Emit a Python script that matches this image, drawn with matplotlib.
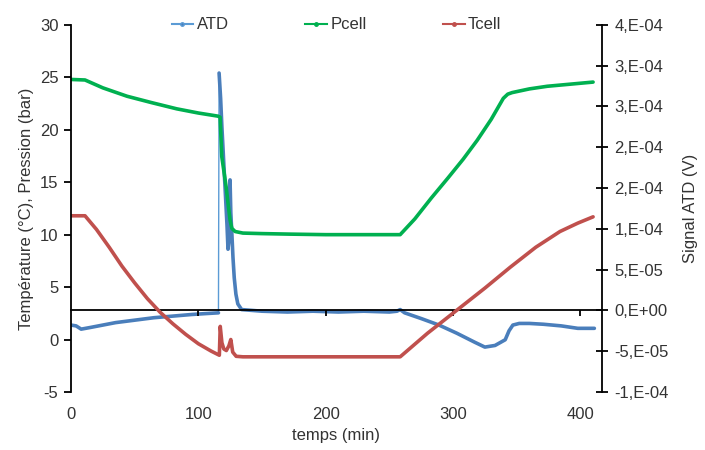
import math

import matplotlib

matplotlib.use("Agg")
from matplotlib import pyplot as plt
from matplotlib.lines import Line2D
from matplotlib.ticker import FuncFormatter, MultipleLocator

plt.rcParams["font.family"] = ["Liberation Sans", "DejaVu Sans"]
plt.rcParams["axes.unicode_minus"] = False

# %% data
# Pcell (bar), left axis
p_t = [0, 11, 25, 44, 63, 83, 100, 115.5, 117.1, 118.4, 121.8, 123.6, 124.9, 126.3, 128.9,
       135, 150, 172, 200, 230, 258.5, 270, 283, 296, 308, 319, 330, 339.5, 343, 346.5,
       360, 374, 392, 410]
p_v = [24.8, 24.75, 24.0, 23.2, 22.6, 22.0, 21.6, 21.3, 21.2, 17.45, 14.6, 12.7, 11.4, 10.6, 10.3,
       10.15, 10.1, 10.05, 10.0, 10.0, 10.0, 11.5, 13.5, 15.4, 17.2, 19.0, 21.0, 23.0, 23.4, 23.55,
       23.9, 24.15, 24.35, 24.55]

# Tcell (degC), left axis
r_t = [0, 11, 20, 30, 40, 50, 60, 70, 80, 90, 100, 110, 116.5, 117.2, 118.5, 120, 122, 124,
       125.5, 127, 129.7, 135, 160, 200, 230, 258.5, 280, 302, 325, 345, 365, 384, 398, 410]
r_v = [11.8, 11.8, 10.5, 8.8, 7.0, 5.4, 3.9, 2.6, 1.5, 0.5, -0.4, -1.1, -1.5, 1.25, -0.3, -0.9,
       -1.05, -0.6, 0.0, -1.2, -1.6, -1.65, -1.65, -1.65, -1.65, -1.65, 0.6, 2.7, 4.9, 6.9, 8.8,
       10.3, 11.1, 11.7]

# ATD signal (V), right axis
a_t = [0, 4, 8, 15, 25, 35, 50, 65, 80, 95, 105, 115.8, 116.3, 117.5, 118.5, 119.5, 120.5,
       121.5, 122.5, 123.3, 124.3, 124.9, 125.5, 126.3, 127.2, 128.2, 129.5, 131, 134, 150, 170,
       190, 210, 230, 250, 256, 258.5, 262, 275, 289, 303, 317, 325, 333, 341, 344, 347, 352,
       360, 371, 385, 398, 411]
a_v = [-1.8e-5, -1.9e-5, -2.3e-5, -2.1e-5, -1.8e-5, -1.5e-5, -1.2e-5, -9e-6, -7e-6, -5e-6,
       -4e-6, -3e-6, 2.91e-4, 2.6e-4, 2.25e-4, 1.95e-4, 1.65e-4, 1.35e-4, 1.05e-4, 7.5e-5, 9e-5,
       1.6e-4, 1.2e-4, 9.5e-5, 6.5e-5, 4e-5, 2e-5, 8e-6, 1e-6, -1e-6, -2e-6, -1e-6, -2e-6, -1e-6,
       -2e-6, -1e-6, 1e-6, -3e-6, -1e-5, -1.8e-5, -2.8e-5, -3.9e-5, -4.5e-5, -4.3e-5, -3.6e-5,
       -2.5e-5, -1.8e-5, -1.6e-5, -1.6e-5, -1.7e-5, -1.9e-5, -2.2e-5, -2.2e-5]

x_ticks = [0, 100, 200, 300, 400]

BLUE = "#4A7EBB"
BLUE_LIGHT = "#5B9BD5"
GREEN = "#00B050"
RED = "#C0504D"
TXT = "#333333"


def excel_sci(v, pos=None):
    # Excel "0,E+00" style: mantissa rounded half away from zero
    if abs(v) < 1e-12:
        return "0,E+00"
    e = math.floor(math.log10(abs(v)) + 1e-9)
    m = round(abs(v) / 10 ** e, 6)
    mi = int(math.floor(m + 0.5))
    if mi >= 10:
        mi, e = 1, e + 1
    sign = "-" if v < 0 else ""
    return f"{sign}{mi},E{e:+03d}"


# %%
fig = plt.figure(figsize=(7.05, 4.5), dpi=100)
ax = fig.add_axes([0.1007, 0.129, 0.7532, 0.8156])
ax2 = ax.twinx()
ax.set_zorder(ax2.get_zorder() + 1)
ax.patch.set_visible(False)

# ATD on the secondary axis: thin jump + thick dense trace
ax2.plot(a_t, a_v, color=BLUE_LIGHT, lw=1.0)
ax2.plot(a_t[:12], a_v[:12], color=BLUE, lw=2.6, solid_capstyle="round")
ax2.plot(a_t[12:], a_v[12:], color=BLUE, lw=2.6, solid_capstyle="round")

ax.plot(r_t, r_v, color=RED, lw=2.6, solid_capstyle="round")
ax.plot(p_t, p_v, color=GREEN, lw=2.6, solid_capstyle="round")

ax.set_xlim(0, 417)
ax.set_ylim(-5, 30)
ax2.set_ylim(-1e-4, 3.5e-4)
ax.set_xticks(x_ticks)
ax.yaxis.set_major_locator(MultipleLocator(5))
ax2.yaxis.set_major_locator(MultipleLocator(5e-5))
ax2.yaxis.set_major_formatter(FuncFormatter(excel_sci))

for s in ["top", "right", "bottom"]:
    ax.spines[s].set_visible(False)
for s in ["top", "left", "bottom"]:
    ax2.spines[s].set_visible(False)
ax.spines["left"].set_linewidth(1.3)
ax2.spines["right"].set_linewidth(1.3)

ax.tick_params(axis="y", direction="out", length=5, width=1.3, labelsize=12,
               labelcolor=TXT, pad=4)
ax.tick_params(axis="x", length=0, labelsize=12, labelcolor=TXT, pad=11)
ax2.tick_params(axis="y", direction="inout", length=8, width=1.3, labelsize=12,
                labelcolor=TXT, pad=5)

# horizontal axis line crossing at ATD = 0
sec = ax.secondary_xaxis(1 / 4.5)
sec.set_xticks(x_ticks[1:])
sec.tick_params(direction="out", length=4, width=1.3, labelbottom=False)
sec.spines["bottom"].set_linewidth(1.3)

ax.set_xlabel("temps (min)", fontsize=12, color=TXT, labelpad=4)
ax.set_ylabel("Température (°C), Pression (bar)", fontsize=12, color=TXT, labelpad=4)
ax2.set_ylabel("Signal ATD (V)", fontsize=12, color=TXT, labelpad=10)

handles = [
    Line2D([], [], color=BLUE_LIGHT, lw=1.5, marker="o", ms=2.5, markerfacecolor=BLUE),
    Line2D([], [], color=GREEN, lw=1.5, marker="o", ms=2.5),
    Line2D([], [], color=RED, lw=1.5, marker="o", ms=2.5),
]
ax.legend(handles, ["ATD", "Pcell", "Tcell"], loc="center", bbox_to_anchor=(0.50, 1.0),
          ncol=3, frameon=False, handlelength=1.3, handletextpad=0.2, columnspacing=4.6,
          fontsize=12, labelcolor=TXT)

fig.savefig("out.png", dpi=100)
